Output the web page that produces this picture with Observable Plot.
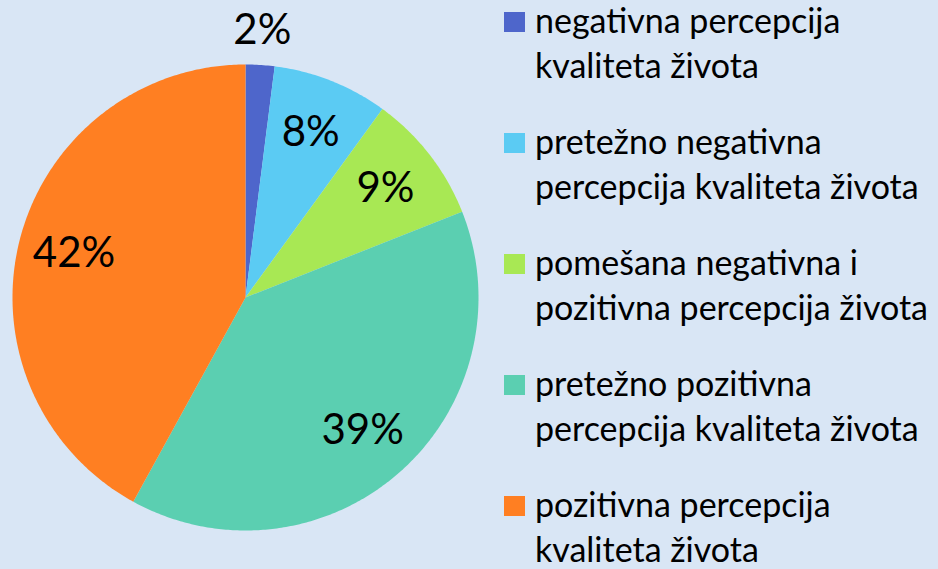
<!DOCTYPE html>
<html>
<head>
<meta charset="utf-8">
<script src="https://cdn.jsdelivr.net/npm/d3@7"></script>
<script src="https://cdn.jsdelivr.net/npm/@observablehq/plot@0.6"></script>
<style>
  html, body { margin: 0; padding: 0; background: #D9E6F5; }
  #wrap { position: relative; width: 938px; height: 569px; overflow: hidden; font-family: Lato, "Open Sans", sans-serif; }
  #legend { position: absolute; left: 504px; top: -3px; }
  .item { position: relative; height: 90px; margin-bottom: 31px; padding-left: 31px; font-size: 34px; line-height: 45px; color: #000; white-space: nowrap; }
  .sw { position: absolute; left: 0; top: 15px; width: 21px; height: 20px; }
</style>
</head>
<body>
<div id="wrap"></div>
<script>
const categories = [
  "negativna percepcija kvaliteta života",
  "pretežno negativna percepcija kvaliteta života",
  "pomešana negativna i pozitivna percepcija života",
  "pretežno pozitivna percepcija kvaliteta života",
  "pozitivna percepcija kvaliteta života"
];
const legendLines = [
  ["negativna percepcija", "kvaliteta života"],
  ["pretežno negativna", "percepcija kvaliteta života"],
  ["pomešana negativna i", "pozitivna percepcija života"],
  ["pretežno pozitivna", "percepcija kvaliteta života"],
  ["pozitivna percepcija", "kvaliteta života"]
];
const values = [2, 8, 9, 39, 42];
const labels = ["2%", "8%", "9%", "39%", "42%"];
const colors = ["#4E66CB", "#5BCBF3", "#A8E854", "#5BCFB1", "#FF7F22"];

const data = categories.map((c, i) => ({category: c, value: values[i], label: labels[i], color: colors[i]}));
const arcs = d3.pie().sort(null).value(d => d.value)(data);

// polygon outline of each slice (angle measured clockwise from 12 o'clock)
const polys = [];
arcs.forEach((a, i) => {
  const n = Math.max(2, Math.ceil((a.endAngle - a.startAngle) / 0.01));
  polys.push({slice: i, x: 0, y: 0, color: a.data.color});
  for (let k = 0; k <= n; k++) {
    const t = a.startAngle + (a.endAngle - a.startAngle) * k / n;
    polys.push({slice: i, x: Math.sin(t), y: Math.cos(t), color: a.data.color});
  }
  polys.push({slice: i, x: 0, y: 0, color: a.data.color});
});
const labelPts = arcs.map(a => {
  const m = (a.startAngle + a.endAngle) / 2;
  const r = a.data.value < 5 ? 1.15 : 0.76;
  return {x: r * Math.sin(m), y: r * Math.cos(m), label: a.data.label};
});

const chart = Plot.plot({
  width: 938,
  height: 569,
  margin: 0,
  style: {background: "transparent", fontFamily: "Lato, 'Open Sans', sans-serif"},
  x: {domain: [-1, 1], range: [12, 478], axis: null},
  y: {domain: [-1, 1], range: [530, 64], axis: null},
  marks: [
    Plot.line(polys, {x: "x", y: "y", z: "slice", fill: "color", stroke: "none", curve: "linear-closed"}),
    Plot.text(labelPts, {x: "x", y: "y", text: "label", fontSize: 42, fill: "black"})
  ]
});
const wrap = document.getElementById("wrap");
wrap.appendChild(chart);
chart.style.position = "absolute"; chart.style.left = "0"; chart.style.top = "0";

const legend = document.createElement("div");
legend.id = "legend";
legendLines.forEach((lines, i) => {
  const it = document.createElement("div");
  it.className = "item";
  const sw = document.createElement("div");
  sw.className = "sw";
  sw.style.background = colors[i];
  it.appendChild(sw);
  lines.forEach(l => { const d = document.createElement("div"); d.textContent = l; it.appendChild(d); });
  legend.appendChild(it);
});
wrap.appendChild(legend);
</script>
</body>
</html>
